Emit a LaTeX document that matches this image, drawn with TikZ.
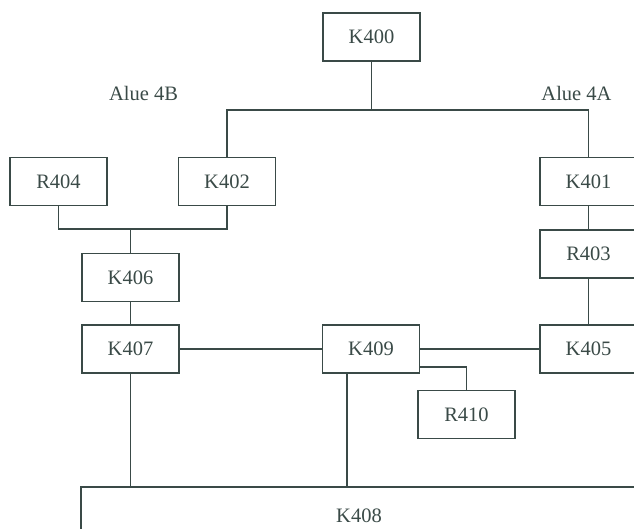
\documentclass[tikz,border=0pt]{standalone}
\usepackage{fontspec}
\setmainfont{Liberation Serif}
\usepackage{tikz}
\usetikzlibrary{positioning}
\usepackage{xcolor}
\definecolor{ink}{HTML}{3A4A47}

\begin{document}
\begin{tikzpicture}[x=1pt,y=-1pt,line width=1.8pt,color=ink]
  \tikzstyle{unit}=[draw,rectangle,minimum width=97pt,minimum height=48pt,inner sep=0pt,font=\fontsize{20.5}{24}\selectfont]
  \tikzstyle{wing}=[font=\fontsize{20.5}{24}\selectfont]

  \useasboundingbox (0,0) rectangle (634,528);

  \node[unit] (K400) at (371.5,37)    {K400};
  \node[unit] (R404) at (58.5,181.5)  {R404};
  \node[unit] (K402) at (227,181.5)   {K402};
  \node[unit] (K401) at (588.5,181.5) {K401};
  \node[unit] (R403) at (588.5,254)   {R403};
  \node[unit] (K406) at (130.5,277.5) {K406};
  \node[unit] (K407) at (130.5,349)   {K407};
  \node[unit] (K409) at (371,349)     {K409};
  \node[unit] (K405) at (588.5,349)   {K405};
  \node[unit] (R410) at (466.5,414.5) {R410};
  \node[unit,minimum width=556pt,minimum height=58pt] (K408) at (359,516) {K408};

  \node[wing] (alue4B) at (143.5,93) {Alue 4B};
  \node[wing] (alue4A) at (576.5,93) {Alue 4A};

  \coordinate (top) at (371.5,110);
  \coordinate (join4B) at (130.5,229);
  \coordinate (k9down) at ([xshift=-24pt]K409.south);

  \draw (K400) -- (top);
  \draw (K402.north) |- (top) -| (K401.north);
  \draw (R404.south) |- (join4B) -| (K402.south);
  \draw (join4B) -- (K406.north);
  \draw (K406) -- (K407);
  \draw (K401) -- (R403) -- (K405);
  \draw (K407) -- (K409) -- (K405);
  \draw ([yshift=-18pt]K409.east) -| (R410.north);
  \draw (K407.south) -- (K407.south |- K408.north);
  \draw (k9down) -- (k9down |- K408.north);
\end{tikzpicture}
\end{document}
